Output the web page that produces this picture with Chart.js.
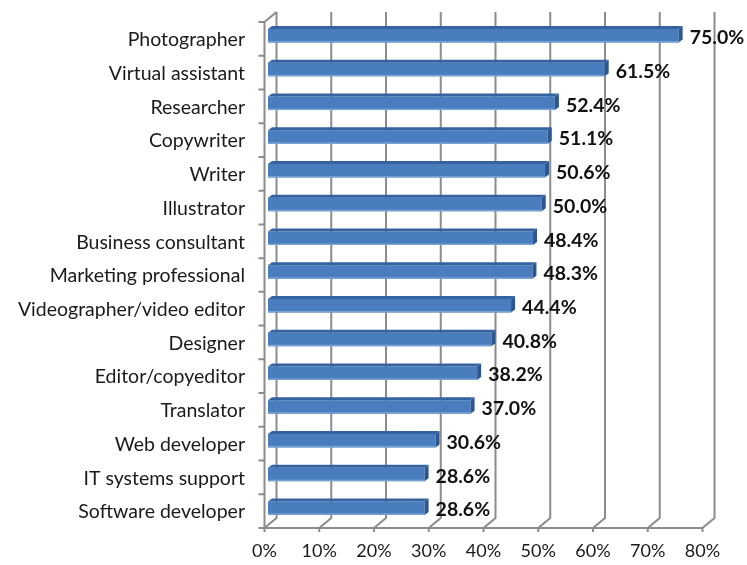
<!DOCTYPE html>
<html>
<head>
<meta charset="utf-8">
<script src="https://cdn.jsdelivr.net/npm/chart.js@4.4.1/dist/chart.umd.min.js"></script>
<style>
  html, body { margin: 0; padding: 0; background: #ffffff; }
  #wrap { width: 747px; height: 565px; position: relative; }
</style>
</head>
<body>
<div id="wrap"><canvas id="chart" width="747" height="565"></canvas></div>
<script>
// Occupations and the share of respondents in each (percent)
const occupations = [
  'Photographer', 'Virtual assistant', 'Researcher', 'Copywriter', 'Writer',
  'Illustrator', 'Business consultant', 'Marketing professional',
  'Videographer/video editor', 'Designer', 'Editor/copyeditor', 'Translator',
  'Web developer', 'IT systems support', 'Software developer'
];
const shares = [75.0, 61.5, 52.4, 51.1, 50.6, 50.0, 48.4, 48.3, 44.4, 40.8, 38.2, 37.0, 30.6, 28.6, 28.6];
const axisMax = 80;
const axisStep = 10;

// Perspective offsets of the 3D frame, relative to the bar front faces
const FRONT = { dx: -3.5, dy: 3 };
const BACK = { dx: 8.5, dy: -7 };
const DEPTH = { dx: 4, dy: 3 };
const FONT = 'Lato, "Open Sans", sans-serif';

const frame3d = {
  id: 'frame3d',
  beforeDatasetsDraw(chart) {
    const { ctx, chartArea: a, scales: { x } } = chart;
    ctx.save();
    ctx.strokeStyle = '#8c8c8c';
    ctx.lineWidth = 2;
    ctx.lineCap = 'butt';
    const fTop = a.top + FRONT.dy, fBot = a.bottom + FRONT.dy;
    const bTop = a.top + BACK.dy, bBot = a.bottom + BACK.dy;
    ctx.beginPath();
    for (let v = 0; v <= axisMax; v += axisStep) {
      const px = x.getPixelForValue(v);
      // back wall gridline and floor diagonal
      ctx.moveTo(px + BACK.dx, bTop);
      ctx.lineTo(px + BACK.dx, bBot);
      ctx.lineTo(px + FRONT.dx, fBot);
      // tick mark below the front axis
      ctx.lineTo(px + FRONT.dx, fBot + 4);
    }
    // front horizontal axis
    const x0 = x.getPixelForValue(0) + FRONT.dx;
    ctx.moveTo(x0, fBot);
    ctx.lineTo(x.getPixelForValue(axisMax) + FRONT.dx, fBot);
    // front vertical axis and top diagonal
    ctx.moveTo(x0, fBot);
    ctx.lineTo(x0, fTop);
    ctx.lineTo(x.getPixelForValue(0) + BACK.dx, bTop);
    // category boundary ticks on the vertical axis
    const n = occupations.length;
    for (let i = 0; i <= n; i++) {
      const py = fTop + (fBot - fTop) * i / n;
      ctx.moveTo(x0, py);
      ctx.lineTo(x0 - 6, py);
    }
    ctx.stroke();
    ctx.restore();
  },
  afterDatasetsDraw(chart) {
    const { ctx } = chart;
    const meta = chart.getDatasetMeta(0);
    ctx.save();
    meta.data.forEach((bar, i) => {
      const { x: xe, y: yc, base, height } = bar.getProps(['x', 'y', 'base', 'height'], true);
      const yt = yc - height / 2, yb = yc + height / 2;
      // top face
      ctx.fillStyle = '#3562a0';
      ctx.beginPath();
      ctx.moveTo(base, yt);
      ctx.lineTo(base + DEPTH.dx, yt - DEPTH.dy);
      ctx.lineTo(xe + DEPTH.dx, yt - DEPTH.dy);
      ctx.lineTo(xe, yt);
      ctx.closePath();
      ctx.fill();
      // end face
      ctx.fillStyle = '#2b5690';
      ctx.beginPath();
      ctx.moveTo(xe, yt);
      ctx.lineTo(xe + DEPTH.dx, yt - DEPTH.dy);
      ctx.lineTo(xe + DEPTH.dx, yb - DEPTH.dy);
      ctx.lineTo(xe, yb);
      ctx.closePath();
      ctx.fill();
      // light lower edge of the front face
      ctx.fillStyle = '#7aa3d6';
      ctx.fillRect(base, yb - 1.5, xe - base, 1.5);
      // value label
      ctx.fillStyle = '#111111';
      ctx.font = 'bold 19.5px ' + FONT;
      ctx.textAlign = 'left';
      ctx.textBaseline = 'middle';
      ctx.fillText(shares[i].toFixed(1) + '%', xe + DEPTH.dx + 7, yc + 2);
    });
    ctx.restore();
  }
};

new Chart(document.getElementById('chart'), {
  type: 'bar',
  data: {
    labels: occupations,
    datasets: [{
      data: shares,
      backgroundColor: '#4a7dbd',
      borderWidth: 0,
      barPercentage: 0.4,
      categoryPercentage: 1
    }]
  },
  options: {
    indexAxis: 'y',
    responsive: false,
    animation: false,
    devicePixelRatio: 1,
    layout: { padding: { left: 0, right: 41, top: 19, bottom: 0 } },
    plugins: { legend: { display: false }, tooltip: { enabled: false } },
    scales: {
      x: {
        min: 0,
        max: axisMax,
        grid: { display: false, drawTicks: false },
        border: { display: false },
        ticks: {
          stepSize: axisStep,
          callback: v => v + '%',
          color: '#1a1a1a',
          font: { family: FONT, size: 18 },
          padding: 15,
          labelOffset: FRONT.dx
        },
        afterFit: s => { s.height = 40; s.paddingLeft = 0; s.paddingRight = 0; }
      },
      y: {
        grid: { display: false, drawTicks: false },
        border: { display: false },
        ticks: {
          color: '#1a1a1a',
          font: { family: FONT, size: 19.5 },
          padding: 23,
          labelOffset: 4,
          autoSkip: false
        },
        afterFit: s => { s.width = 268; s.paddingTop = 0; s.paddingBottom = 0; }
      }
    }
  },
  plugins: [frame3d]
});
</script>
</body>
</html>
